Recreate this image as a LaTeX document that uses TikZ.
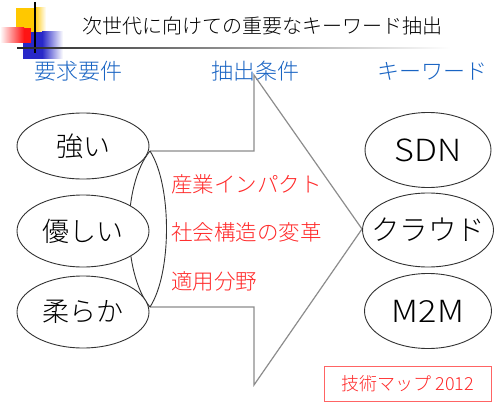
\documentclass[tikz,border=0pt]{standalone}
\usepackage{fontspec}
\IfFontExistsTF{Noto Sans CJK JP Light}{\setmainfont{Noto Sans CJK JP Light}}{\setmainfont{Noto Sans CJK JP}}
\usetikzlibrary{shapes.geometric}
\definecolor{hblue}{RGB}{25,100,195}
\definecolor{tred}{RGB}{255,40,40}
\definecolor{boxred}{RGB}{255,100,100}
\definecolor{agray}{RGB}{140,140,140}
\definecolor{egray}{RGB}{50,50,50}
\definecolor{sqyellow}{RGB}{255,200,0}
\definecolor{sqred}{RGB}{255,20,20}
\definecolor{sqblue}{RGB}{40,40,200}
\begin{document}
\begin{tikzpicture}[x=1pt,y=-1pt,
  oval/.style={ellipse,draw=egray,line width=0.9pt,fill=white,inner sep=0pt},
  head/.style={text=hblue,font=\fontsize{22}{26}\selectfont,inner sep=0pt},
  cond/.style={text=tred,font=\fontsize{21.5}{26}\selectfont,anchor=west,inner sep=0pt},
  big/.style={font=\fontsize{27}{32}\selectfont},
  kw/.style={font=\fontsize{30.5}{34}\selectfont}]
\useasboundingbox (0,0) rectangle (500,404);
% decorative squares
\fill[sqyellow] (16,8) rectangle (34,32);
\shade[left color=sqyellow,right color=white] (34,8) rectangle (46,32);
\fill[sqblue] (23,32) rectangle (42,59);
\shade[left color=sqblue,right color=white] (42,32) rectangle (63,59);
\shade[left color=white,right color=sqred] (0,28) rectangle (24,43);
\fill[sqred] (24,28) rectangle (31,43);
\draw[black,line width=1.2pt] (35,2) -- (35,53);
\shade[left color=black!85,right color=white] (17,47.3) rectangle (450,48.8);
% title
\node[font=\fontsize{20}{24}\selectfont,inner sep=0pt] (title) at (262,26) {次世代に向けての重要なキーワード抽出};
% headings
\node[head] (h1) at (78,71) {要求要件};
\node[head] (h2) at (255,71) {抽出条件};
\node[head] (h3) at (432,71) {キーワード};
% arrow
\draw[agray,line width=1.2pt,line join=miter] (150,151) -- (254,151) -- (254,75) -- (362,229) -- (254,385) -- (254,307) -- (150,307);
% brackets
\draw[egray,line width=0.9pt] (150,151) .. controls (122,185) and (122,273) .. (150,307);
\draw[egray,line width=0.9pt] (150,151) .. controls (172,185) and (172,273) .. (150,307);
% left ellipses
\node[oval,minimum width=132pt,minimum height=66pt] (e1) at (83,146) {};
\node[big] at (e1) {強い};
\node[oval,minimum width=132pt,minimum height=72pt] (e2) at (83,231) {};
\node[big] at (e2) {優しい};
\node[oval,minimum width=132pt,minimum height=72pt] (e3) at (83,312) {};
\node[big] at (e3) {柔らか};
% conditions
\node[cond] (c1) at (171,184) {産業インパクト};
\node[cond] (c2) at (171,232) {社会構造の変革};
\node[cond] (c3) at (171,281) {適用分野};
% keywords
\node[oval,minimum width=126pt,minimum height=75pt] (k1) at (428,150) {};
\node[kw] at (k1) {\scalebox{1.12}[1]{SDN}};
\node[oval,minimum width=131pt,minimum height=74pt] (k2) at (428,230) {};
\node[font=\fontsize{28.5}{32}\selectfont] at (k2) {クラウド};
\node[oval,minimum width=127pt,minimum height=75pt] (k3) at (428,311) {};
\node[kw] at (k3) {\scalebox{1.12}[1]{M2M}};
% box
\node[draw=boxred,line width=1.4pt,minimum width=167pt,minimum height=35pt,inner sep=0pt,text=tred,font=\fontsize{18}{22}\selectfont] (map) at (408,384) {技術マップ 2012};
\end{tikzpicture}
\end{document}
